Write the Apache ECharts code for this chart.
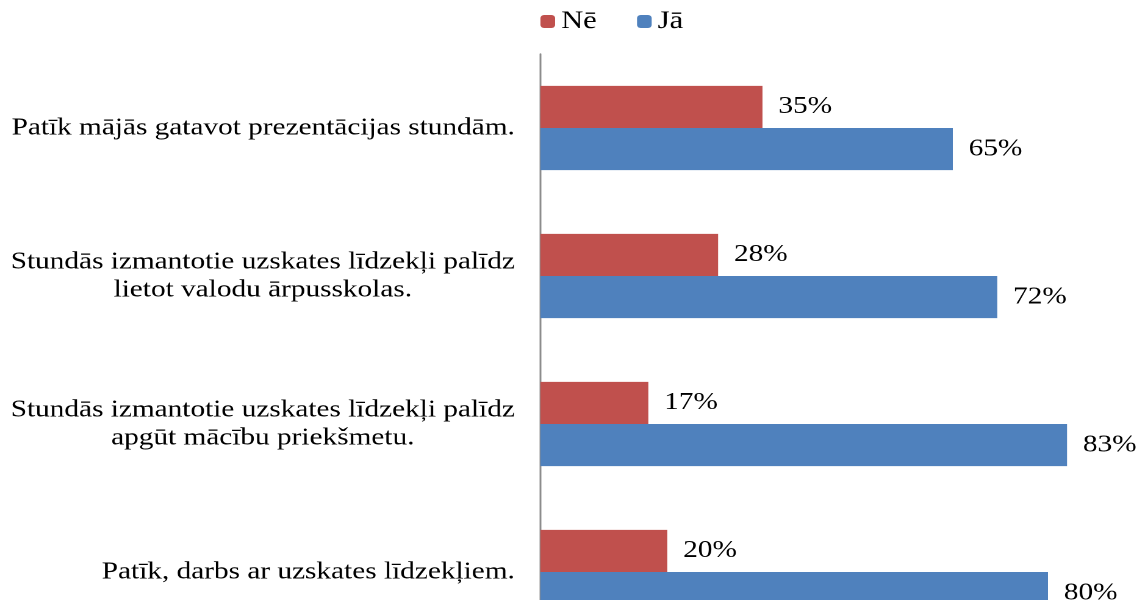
<!DOCTYPE html>
<html>
<head>
<meta charset="utf-8">
<script src="https://cdn.jsdelivr.net/npm/echarts@6/dist/echarts.min.js"></script>
<style>
html,body{margin:0;padding:0;background:#fff;overflow:hidden;}
#wrap{width:1136px;height:600px;overflow:hidden;position:relative;}
#chart{width:931px;height:600px;transform:scaleX(1.22);transform-origin:0 0;}
</style>
</head>
<body>
<div id="wrap"><div id="chart"></div></div>
<script>
var categories = [
  "Patīk mājās gatavot prezentācijas stundām.",
  "Stundās izmantotie uzskates līdzekļi palīdz\nlietot valodu ārpusskolas.",
  "Stundās izmantotie uzskates līdzekļi palīdz\napgūt mācību priekšmetu.",
  "Patīk, darbs ar uzskates līdzekļiem."
];
var seriesNames = ["Nē", "Jā"];
var valuesNe = [35, 28, 17, 20];
var valuesJa = [65, 72, 83, 80];

var FONT = "'Liberation Serif', 'Times New Roman', serif";
var chart = echarts.init(document.getElementById('chart'), null, { renderer: 'canvas', devicePixelRatio: 2 });
function catFormatter(v) {
  return v.split('\n').map(function (l) { return '{c|' + l + '}'; }).join('\n');
}
var labelStyle = {
  show: true, position: 'right', distance: 13,
  formatter: '{c}%', color: '#000', fontFamily: FONT, fontSize: 24
};
chart.setOption({
  animation: false,
  backgroundColor: '#fff',
  legend: {
    data: seriesNames,
    top: 9, left: 443, padding: 0,
    itemWidth: 12, itemHeight: 13, itemGap: 33,
    textStyle: { fontFamily: FONT, fontSize: 25, color: '#000' }
  },
  grid: { left: 443, top: 54, width: 520, height: 592, containLabel: false, outerBoundsMode: 'none' },
  xAxis: {
    type: 'value', min: 0, max: 100, show: false
  },
  yAxis: {
    type: 'category', inverse: true, data: categories,
    axisLine: { show: true, lineStyle: { color: '#8c8c8c', width: 1.5 } },
    axisTick: { show: false },
    axisLabel: {
      margin: 21, align: 'right', formatter: catFormatter,
      fontFamily: FONT, fontSize: 24, color: '#000', lineHeight: 28,
      rich: { c: { align: 'center', fontFamily: FONT, fontSize: 24, color: '#000', lineHeight: 28 } }
    }
  },
  series: [
    { name: seriesNames[0], type: 'bar', data: valuesNe, barGap: '0%', barCategoryGap: '43%',
      itemStyle: { color: '#C0504D' }, label: labelStyle },
    { name: seriesNames[1], type: 'bar', data: valuesJa, barGap: '0%', barCategoryGap: '43%',
      itemStyle: { color: '#4F81BD' }, label: labelStyle }
  ]
});
</script>
</body>
</html>
